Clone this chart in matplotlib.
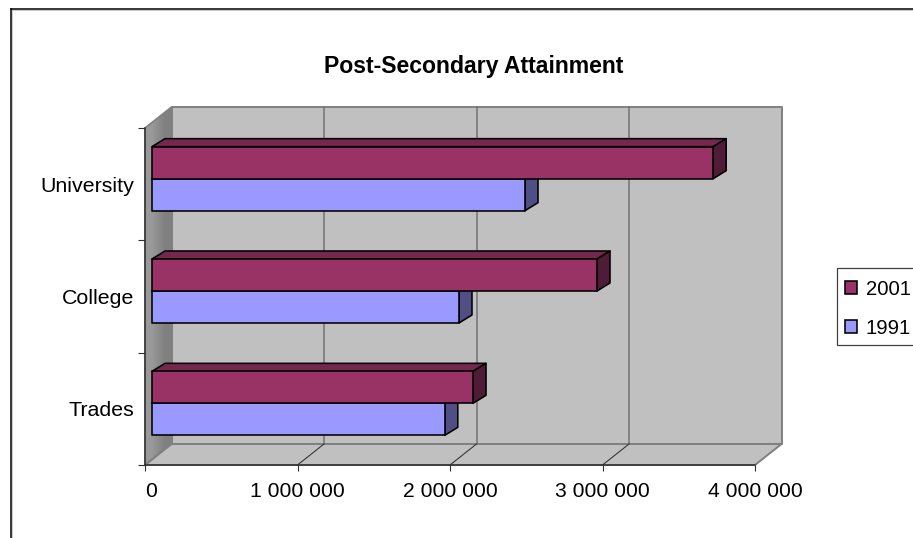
import matplotlib
matplotlib.use('Agg')
import matplotlib.pyplot as plt
from matplotlib.lines import Line2D
from matplotlib.patches import Patch, Polygon, Rectangle

categories = ['Trades', 'College', 'University']
values_1991 = [1920000, 2013000, 2446000]
values_2001 = [2105000, 2918000, 3680000]
x_ticks = [0, 1000000, 2000000, 3000000, 4000000]
x_tick_labels = ['0', '1 000 000', '2 000 000', '3 000 000', '4 000 000']
series_names = ['2001', '1991']

W, H = 913, 538
plt.rcParams['font.family'] = ['Liberation Sans', 'DejaVu Sans']

fig = plt.figure(figsize=(W / 100, H / 100), dpi=100, facecolor='white')

# front plane of the fake 3D box, in pixels
left, right, top, bottom = 145, 755, 128, 465
ax = fig.add_axes([left / W, 1 - bottom / H, (right - left) / W, (bottom - top) / H])
ax.patch.set_visible(False)
for s in ['top', 'right']:
    ax.spines[s].set_visible(False)
for s in ['left', 'bottom']:
    ax.spines[s].set_color('#303030')
    ax.spines[s].set_linewidth(1.1)

px_x = 4000000 / (right - left)
px_y = 3 / (bottom - top)


def shift(x, y, dx, dy):
    return x + dx * px_x, y + dy * px_y


def face(points, color, z=2, edge='black', lw=1.15):
    ax.fill([p[0] for p in points], [p[1] for p in points], facecolor=color, edgecolor=edge,
            linewidth=lw, zorder=z, clip_on=False, joinstyle='round')


# walls and floor
depth_x, depth_y = 26.5, 21
xmax = x_ticks[-1]
side_wall = [(0, 0), shift(0, 0, depth_x, depth_y), shift(0, 3, depth_x, depth_y), (0, 3)]
face(side_wall, 'none', z=1.2, edge='#808080')
shade = ax.imshow([[0.6, 0.5]], cmap='gray', vmin=0, vmax=1, aspect='auto', interpolation='bilinear', zorder=1,
                  extent=(0, depth_x * px_x, 0, 3 + depth_y * px_y))
shade.set_clip_box(fig.bbox)
shade.set_clip_path(Polygon(side_wall, transform=ax.transData))
ax.set_xlim(0, 4000000)
ax.set_ylim(0, 3)

face([shift(0, 0, depth_x, depth_y), shift(xmax, 0, depth_x, depth_y), shift(xmax, 3, depth_x, depth_y),
      shift(0, 3, depth_x, depth_y)], '#c0c0c0', z=1, edge='#808080', lw=1.4)
face([(0, 0), (xmax, 0), shift(xmax, 0, depth_x, depth_y), shift(0, 0, depth_x, depth_y)], '#c0c0c0', z=1,
     edge='#808080', lw=1.4)

# gridlines on the back wall and their diagonals across the floor
for t in x_ticks[1:-1]:
    bx, by = shift(t, 0, depth_x, depth_y)
    ax.plot([bx, bx], [by, shift(t, 3, depth_x, depth_y)[1]], color='#737373', lw=1.1, zorder=1.5, clip_on=False)
    ax.plot([t, bx], [0, by], color='#303030', lw=0.75, zorder=1.5, clip_on=False)

# bars sit partway into the box
bar_dx, bar_dy = 7, 5.5
side_dx, side_dy = 13, 8
bar_h = 32 * px_y


def bar3d(value, y0, front, side, upper):
    x0, y0 = shift(0, y0, bar_dx, bar_dy)
    x1 = shift(value, 0, bar_dx, 0)[0]
    y1 = y0 + bar_h
    face([(x0, y1), (x1, y1), shift(x1, y1, side_dx, side_dy), shift(x0, y1, side_dx, side_dy)], upper, z=3)
    face([(x1, y0), shift(x1, y0, side_dx, side_dy), shift(x1, y1, side_dx, side_dy), (x1, y1)], side, z=3)
    face([(x0, y0), (x1, y0), (x1, y1), (x0, y1)], front, z=4)


for i in range(len(categories)):
    centre = i + 0.5
    bar3d(values_1991[i], centre - bar_h, '#9999ff', '#4f4f85', '#6a6ab0')
    bar3d(values_2001[i], centre, '#993366', '#4f1c38', '#75284f')

ax.set_xticks(x_ticks)
ax.set_xticklabels(x_tick_labels, fontsize=15.2, color='black')
ax.get_xticklabels()[0].set_ha('left')
ax.tick_params(axis='x', length=4.5, width=0.8, color='#303030', pad=7.5)
ax.set_yticks([0, 1, 2, 3])
ax.set_yticklabels([])
ax.tick_params(axis='y', which='major', length=5, width=0.8, color='#303030')
ax.set_yticks([0.5, 1.5, 2.5], minor=True)
ax.set_yticklabels(categories, minor=True, fontsize=15.4, color='black')
ax.tick_params(axis='y', which='minor', length=0, pad=7.5)

fig.text(473.5 / W, 1 - 67 / H, 'Post-Secondary Attainment', ha='center', va='center', fontsize=16.6,
         fontweight='bold', color='black')

# legend box runs past the right edge of the canvas
fig.add_artist(Rectangle((837 / W, 1 - 345 / H), 90 / W, 77 / H, facecolor='white', edgecolor='#404040', lw=0.9,
                         transform=fig.transFigure))
handles = [Patch(facecolor='#993366', edgecolor='black', linewidth=1.15),
           Patch(facecolor='#9999ff', edgecolor='black', linewidth=1.15)]
leg = fig.legend(handles, series_names, loc='upper left', bbox_to_anchor=(845 / W, 1 - 280 / H),
                 borderaxespad=0, borderpad=0, fontsize=14.6, frameon=False, handlelength=0.6, handleheight=0.6,
                 handletextpad=0.42, labelspacing=0.97)

# outer chart border, open on the right and at the bottom
fig.add_artist(Line2D([12 / W, 12 / W], [0, 1 - 10 / H], color='#c8c8c8', lw=0.7))
fig.add_artist(Line2D([12 / W, 1], [1 - 10 / H, 1 - 10 / H], color='#c8c8c8', lw=0.7))
fig.add_artist(Line2D([11 / W, 11 / W], [0, 1 - 9 / H], color='black', lw=1.1))
fig.add_artist(Line2D([11 / W, 1], [1 - 9 / H, 1 - 9 / H], color='black', lw=1.1))

fig.savefig('out.png', dpi=100)
